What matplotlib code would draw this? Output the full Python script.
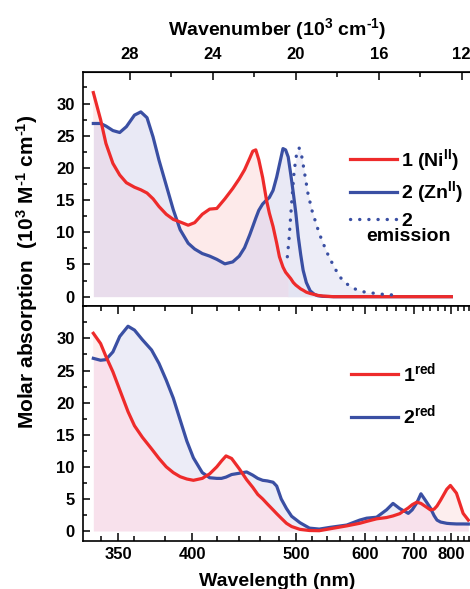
import numpy as np
import matplotlib.pyplot as plt
from matplotlib.ticker import FixedLocator, MultipleLocator

plt.rcParams['font.family'] = ['Liberation Sans', 'DejaVu Sans']
plt.rcParams['font.weight'] = 'bold'
plt.rcParams['mathtext.fontset'] = 'custom'
plt.rcParams['mathtext.rm'] = 'Liberation Sans:bold'
plt.rcParams['mathtext.bf'] = 'Liberation Sans:bold'
plt.rcParams['mathtext.it'] = 'Liberation Sans:bold'
plt.rcParams['mathtext.default'] = 'bf'

# top panel: absorption of 1 (Ni) and 2 (Zn), read on one wavelength grid (nm)
wl_top = np.array([336, 340, 343, 347, 351, 355, 360, 364, 368, 372, 376, 381, 386, 391,
                   397, 402, 408, 414, 420, 427, 434, 440, 445, 450, 453, 456, 459, 463,
                   467, 470, 474, 478, 481, 485, 488, 491, 494, 497, 500, 503, 506, 509,
                   513, 518, 523, 528, 535, 550, 600, 700, 800])
ni_abs = np.array([31.7, 27.5, 23.8, 20.7, 18.9, 17.7, 17.0, 16.6, 16.1, 15.2, 14.0, 12.8, 12.0, 11.6,
                   11.1, 11.5, 12.8, 13.6, 13.7, 15.2, 16.8, 18.3, 19.7, 21.5, 22.6, 22.8, 21.3, 18.5,
                   15.0, 13.0, 10.9, 8.3, 6.2, 4.6, 3.8, 3.3, 2.8, 2.2, 1.8, 1.5, 1.2, 1.0,
                   0.7, 0.5, 0.35, 0.2, 0.1, 0.0, 0.0, 0.0, 0.0])
zn_abs = np.array([26.9, 26.9, 26.5, 25.8, 25.5, 26.4, 28.2, 28.7, 27.8, 24.8, 21.2, 17.3, 13.5, 10.4,
                   8.3, 7.4, 6.7, 6.3, 5.8, 5.1, 5.4, 6.3, 7.6, 9.6, 10.9, 12.2, 13.4, 14.4,
                   15.0, 15.4, 16.5, 18.6, 20.5, 23.0, 22.8, 21.7, 19.0, 16.1, 13.0, 9.3, 6.5, 4.1,
                   2.2, 0.9, 0.4, 0.15, 0.05, 0.0, 0.0, 0.0, 0.0])

# emission of 2 (scaled)
wl_em = np.array([490, 492, 495, 498, 501, 504, 507, 510, 515, 520, 524, 530, 540, 550,
                  559, 570, 580, 600, 633, 667])
zn_em = np.array([6.2, 9.0, 14.5, 19.5, 22.2, 23.1, 22.0, 19.8, 16.1, 13.5, 12.0, 9.8, 7.0, 4.8,
                  3.1, 2.0, 1.3, 0.7, 0.37, 0.2])

# bottom panel: reduced species
wl_bot = np.array([336, 340, 343, 347, 351, 356, 360, 365, 371, 376, 381, 386, 391, 396,
                   401, 408, 414, 420, 424, 428, 433, 440, 447, 453, 458, 463, 468, 474,
                   478, 483, 489, 495, 505, 517, 530, 545, 570, 591, 603, 621, 640, 653,
                   667, 686, 695, 706, 716, 728, 740, 750, 758, 768, 786, 797, 816, 838, 856])
red1 = np.array([30.8, 29.2, 27.2, 24.8, 22.0, 18.6, 16.4, 14.6, 12.8, 11.3, 10.0, 9.1, 8.46, 8.1,
                 7.9, 8.2, 8.9, 10.0, 10.9, 11.7, 11.3, 9.7, 8.0, 6.8, 5.7, 5.0, 4.2, 3.3,
                 2.7, 2.0, 1.2, 0.7, 0.26, 0.08, 0.05, 0.35, 0.8, 1.2, 1.5, 1.9, 2.1, 2.35,
                 2.7, 3.6, 4.1, 4.5, 4.3, 3.8, 3.3, 3.4, 3.9, 4.8, 6.5, 7.1, 5.9, 2.75, 1.7])
red2 = np.array([26.9, 26.6, 26.7, 27.9, 30.3, 31.9, 31.3, 29.8, 28.2, 26.1, 23.5, 20.7, 17.3, 14.0,
                 11.4, 9.1, 8.3, 8.2, 8.2, 8.4, 8.8, 9.0, 9.2, 8.7, 8.2, 7.9, 7.8, 7.6,
                 7.0, 5.0, 3.5, 2.3, 1.3, 0.45, 0.3, 0.57, 0.93, 1.7, 2.0, 2.15, 3.3, 4.3,
                 3.5, 2.75, 3.3, 4.4, 5.8, 4.7, 3.6, 2.4, 1.7, 1.4, 1.2, 1.15, 1.1, 1.1, 1.09])

wl_major = [350, 400, 500, 600, 700, 800]
wl_minor = [w for w in range(340, 880, 20) if w not in wl_major]
wn_major = [28, 24, 20, 16, 12]
wn_minor = [26, 22, 18, 14]
y_major = [0, 5, 10, 15, 20, 25, 30]

red = '#ee2b2b'
blue = '#3a4fa3'

def wn(wl):
    # wavelength (nm) -> wavenumber (10^3 cm^-1)
    return 1e4 / np.asarray(wl, dtype=float)

fig = plt.figure(figsize=(4.70, 5.89), dpi=100)
ax1 = fig.add_axes([0.1766, 0.481, 0.8255, 0.3968])
ax2 = fig.add_axes([0.1766, 0.081, 0.8255, 0.400])

# ---- top panel
x = wn(wl_top)
ax1.fill_between(wn(wl_em), 0, zn_em, color='#ededf7', lw=0)
ax1.fill_between(x, 0, np.minimum(ni_abs, zn_abs), where=wl_top <= 491, color='#e9ddec', lw=0)
ax1.fill_between(x, 0, np.minimum(ni_abs, zn_abs), where=wl_top >= 491, color='#e3e4f2', lw=0)
ax1.fill_between(x, zn_abs, ni_abs, where=ni_abs >= zn_abs, interpolate=True, color='#fdeaea', lw=0)
ax1.fill_between(x, ni_abs, zn_abs, where=zn_abs >= ni_abs, interpolate=True, color='#e9e9f5', lw=0)
ax1.plot(x, zn_abs, color=blue, lw=2.3, label='2 (Zn$^{II}$)')
ax1.plot(x, ni_abs, color=red, lw=2.3, label='1 (Ni$^{II}$)')
ax1.plot(wn(wl_em), zn_em, color=blue, lw=2.4, ls=(0, (0.05, 2.7)),
         dash_capstyle='round', label='2')
ax1.set_ylim(-1.4, 34.9)

h, l = ax1.get_legend_handles_labels()
ax1.legend([h[1], h[0], h[2]], [l[1], l[0], l[2]], loc='upper left',
           bbox_to_anchor=(0.688, 0.68), frameon=False, fontsize=14,
           borderpad=0, borderaxespad=0, handlelength=2.4, handletextpad=0.25,
           labelspacing=0.35)
ax1.text(0.84, 0.295, 'emission', transform=ax1.transAxes, ha='center', va='center',
         fontsize=14, fontweight='bold')

top = ax1.secondary_xaxis('top')
top.xaxis.set_major_locator(FixedLocator(wn_major))
top.xaxis.set_minor_locator(FixedLocator(wn_minor))
top.set_xticklabels([str(v) for v in wn_major])
top.tick_params(which='both', direction='in', width=1.1, labelsize=12, pad=7)
top.tick_params(which='major', length=6)
top.tick_params(which='minor', length=3.5)
top.set_xlabel(r'Wavenumber (10$^3$ cm$^{\text{-}1}$)', fontsize=14, fontweight='bold', labelpad=9)
ax1.tick_params(axis='x', which='both', bottom=False, top=False, labelbottom=False)

# ---- bottom panel
x = wn(wl_bot)
ax2.fill_between(x, 0, np.minimum(red1, red2), color='#f8e1ec', lw=0)
ax2.fill_between(x, red2, red1, where=red1 >= red2, interpolate=True, color='#fdeeee', lw=0)
ax2.fill_between(x, red1, red2, where=red2 >= red1, interpolate=True, color='#ececf7', lw=0)
ax2.plot(x, red2, color=blue, lw=2.3, label='2$^{red}$')
ax2.plot(x, red1, color=red, lw=2.3, label='1$^{red}$')
ax2.set_ylim(-1.6, 35.1)

h, l = ax2.get_legend_handles_labels()
ax2.legend([h[1], h[0]], [l[1], l[0]], loc='upper left',
           bbox_to_anchor=(0.692, 0.765), frameon=False, fontsize=14,
           borderpad=0, borderaxespad=0, handlelength=2.4, handletextpad=0.25,
           labelspacing=0.95)

ax2.xaxis.set_major_locator(FixedLocator(wn(wl_major)))
ax2.xaxis.set_minor_locator(FixedLocator(wn(wl_minor)))
ax2.set_xticklabels([str(w) for w in wl_major])
ax2.tick_params(axis='x', which='both', direction='in', top=True, width=1.1,
                labelsize=12, pad=4)
ax2.tick_params(axis='x', which='major', length=6)
ax2.tick_params(axis='x', which='minor', length=3.5)
ax2.set_xlabel('Wavelength (nm)', fontsize=14, fontweight='bold', labelpad=8)

for ax in (ax1, ax2):
    ax.set_xlim(30.26, 11.554)
    ax.yaxis.set_major_locator(FixedLocator(y_major))
    ax.yaxis.set_minor_locator(MultipleLocator(2.5))
    ax.tick_params(axis='y', which='both', direction='in', width=1.1, labelsize=12, pad=6)
    ax.tick_params(axis='y', which='major', length=5)
    ax.tick_params(axis='y', which='minor', length=3)
    for s in ax.spines.values():
        s.set_linewidth(1.2)
    for t in ax.get_yticklabels():
        t.set_fontweight('bold')
    for t in ax.get_xticklabels():
        t.set_fontweight('bold')
for t in top.get_xticklabels():
    t.set_fontweight('bold')

fig.text(0.057, 1 - 272 / 589,
         r'Molar absorption  (10$^3$ M$^{\text{-}1}$ cm$^{\text{-}1}$)',
         rotation=90, ha='center', va='center', fontsize=15, fontweight='bold')

fig.savefig('out.png', dpi=100)
